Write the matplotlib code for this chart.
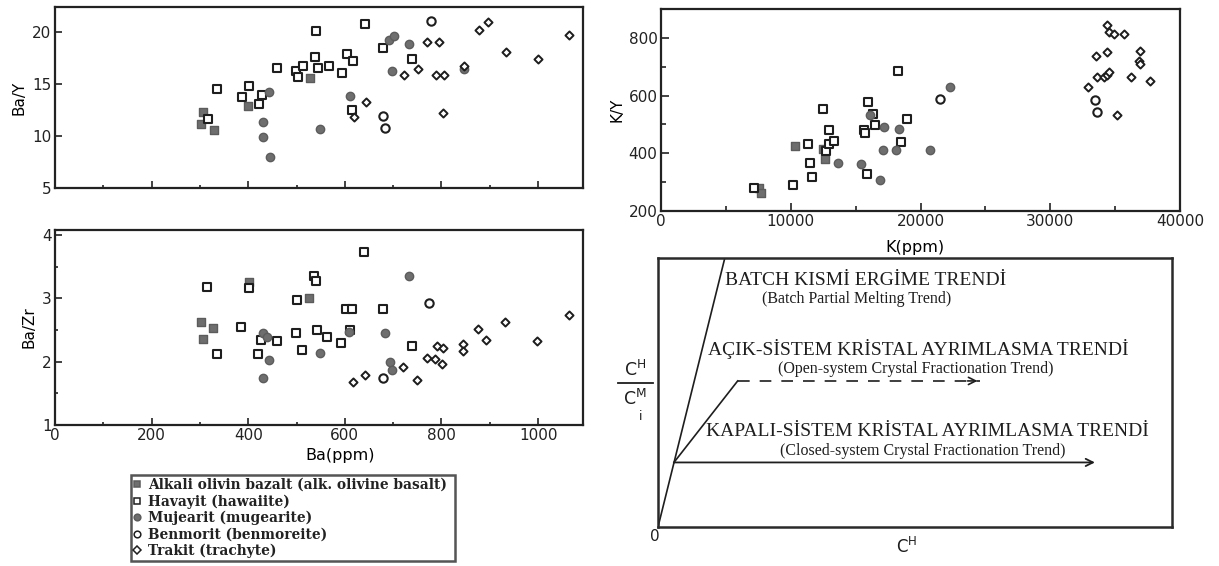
import matplotlib
matplotlib.use('Agg')
import matplotlib.pyplot as plt
from matplotlib.ticker import MultipleLocator
from matplotlib.lines import Line2D

plt.rcParams['font.family'] = ['DejaVu Sans']
plt.rcParams['mathtext.fontset'] = 'dejavusans'

# Ba - Ba/Y
bay_alk_x = [303, 307, 329, 400, 527]
bay_alk_y = [11.2, 12.3, 10.6, 12.9, 15.6]
bay_haw_x = [317, 336, 387, 401, 422, 429, 460, 498, 502, 513, 538, 541, 545, 567, 594, 605, 616, 614, 641, 680, 740]
bay_haw_y = [11.6, 14.5, 13.7, 14.8, 13.1, 13.9, 16.5, 16.2, 15.7, 16.7, 17.6, 20.1, 16.5, 16.7, 16.1, 17.9, 17.2, 12.5, 20.8, 18.5, 17.4]
bay_mug_x = [430, 430, 444, 446, 549, 611, 692, 702, 698, 733, 847]
bay_mug_y = [11.3, 9.9, 14.2, 8.0, 10.7, 13.8, 19.2, 19.6, 16.2, 18.8, 16.4]
bay_ben_x = [680, 683, 778]
bay_ben_y = [11.9, 10.8, 21.1]
bay_tra_x = [619, 644, 722, 752, 771, 794, 789, 805, 803, 847, 877, 896, 934, 1000, 1065]
bay_tra_y = [11.8, 13.3, 15.9, 16.4, 19.0, 19.0, 15.9, 15.9, 12.2, 16.7, 20.2, 21.0, 18.1, 17.4, 19.7]

# Ba - Ba/Zr
bazr_alk_x = [303, 307, 327, 401, 525]
bazr_alk_y = [2.62, 2.36, 2.54, 3.26, 3.0]
bazr_haw_x = [315, 335, 384, 401, 420, 427, 459, 498, 501, 511, 536, 540, 543, 563, 593, 602, 614, 611, 640, 679, 738]
bazr_haw_y = [3.18, 2.12, 2.55, 3.16, 2.12, 2.34, 2.32, 2.45, 2.98, 2.18, 3.36, 3.27, 2.5, 2.39, 2.29, 2.84, 2.84, 2.5, 3.74, 2.84, 2.24]
bazr_mug_x = [430, 438, 444, 430, 548, 609, 684, 694, 698, 732]
bazr_mug_y = [2.45, 2.39, 2.03, 1.74, 2.13, 2.47, 2.45, 2.0, 1.87, 3.35]
bazr_ben_x = [679, 775]
bazr_ben_y = [1.75, 2.92]
bazr_tra_x = [617, 642, 720, 749, 770, 787, 791, 803, 801, 845, 845, 875, 893, 932, 998, 1063]
bazr_tra_y = [1.68, 1.79, 1.92, 1.71, 2.06, 2.04, 2.24, 2.22, 1.97, 2.28, 2.17, 2.51, 2.35, 2.62, 2.33, 2.73]

# K - K/Y
ky_alk_x = [7540, 7690, 10290, 12460, 12640]
ky_alk_y = [281, 262, 425, 416, 381]
ky_haw_x = [7170, 10140, 11360, 11480, 11600, 12520, 12730, 12940, 12980, 13370, 15630, 15690, 15850, 15940, 16360, 16490, 18290, 18530, 18930]
ky_haw_y = [278, 290, 431, 366, 318, 554, 408, 431, 479, 442, 479, 472, 327, 577, 537, 497, 685, 439, 520]
ky_mug_x = [13620, 15390, 16120, 16850, 17220, 17100, 18130, 18380, 20760, 22290]
ky_mug_y = [366, 362, 533, 308, 491, 410, 413, 485, 410, 631]
ky_ben_x = [21490, 33460, 33640]
ky_ben_y = [589, 583, 543]
ky_tra_x = [32940, 33490, 33580, 34160, 34400, 34560, 34400, 34500, 34400, 34930, 35170, 35720, 36240, 36850, 36940, 36940, 37670]
ky_tra_y = [631, 737, 664, 664, 673, 681, 843, 820, 750, 814, 531, 814, 664, 721, 756, 710, 652]

rock_labels = ['Alkali olivin bazalt (alk. olivine basalt)', 'Havayit (hawaiite)',
               'Mujearit (mugearite)', 'Benmorit (benmoreite)', 'Trakit (trachyte)']

# schematic trend lines (fractions of the frame)
batch_x = [0.0, 0.13]
batch_y = [0.0, 1.0]
open_x = [0.031, 0.155]
open_y = [0.24, 0.543]
open_dash_x = [0.155, 0.627]
closed_x = [0.031, 0.85]
closed_y = 0.24

GRAY = '#6e6e6e'
INK = '#1e1e1e'
styles = [
    dict(marker='s', s=30, facecolor=GRAY, edgecolor='#5c5c5c', linewidths=1.0),
    dict(marker='s', s=30, facecolor='white', edgecolor=INK, linewidths=1.5),
    dict(marker='o', s=36, facecolor=GRAY, edgecolor='#5c5c5c', linewidths=1.0),
    dict(marker='o', s=36, facecolor='white', edgecolor=INK, linewidths=1.5),
    dict(marker='D', s=17, facecolor='white', edgecolor=INK, linewidths=1.4),
]


def draw_groups(ax, groups):
    for (xs, ys), st in zip(groups, styles):
        ax.scatter(xs, ys, zorder=3, **st)


def frame(ax, major_len=5, minor_len=2.5):
    for sp in ax.spines.values():
        sp.set_linewidth(1.6)
        sp.set_color('#222222')
    ax.tick_params(which='both', direction='in', top=False, right=False,
                   labelsize=11, colors='#222222', width=1.2, pad=2.5)
    ax.tick_params(which='major', length=major_len)
    ax.tick_params(which='minor', length=minor_len)


W, H = 1219, 566


def box(left, top, right, bottom):
    return [left / W, 1 - bottom / H, (right - left) / W, (bottom - top) / H]


fig = plt.figure(figsize=(12.19, 5.66), dpi=100)

# Ba/Y
ax1 = fig.add_axes(box(55, 7, 583, 188))
draw_groups(ax1, [(bay_alk_x, bay_alk_y), (bay_haw_x, bay_haw_y), (bay_mug_x, bay_mug_y),
                  (bay_ben_x, bay_ben_y), (bay_tra_x, bay_tra_y)])
ax1.set_xlim(0, 1093)
ax1.set_ylim(5, 22.4)
ax1.xaxis.set_major_locator(MultipleLocator(200))
ax1.xaxis.set_minor_locator(MultipleLocator(100))
ax1.yaxis.set_major_locator(MultipleLocator(5))
ax1.tick_params(axis='x', labelbottom=False)
ax1.set_ylabel('Ba/Y', fontsize=11, labelpad=4)
frame(ax1)

# Ba/Zr
ax2 = fig.add_axes(box(55, 230, 583, 425))
draw_groups(ax2, [(bazr_alk_x, bazr_alk_y), (bazr_haw_x, bazr_haw_y), (bazr_mug_x, bazr_mug_y),
                  (bazr_ben_x, bazr_ben_y), (bazr_tra_x, bazr_tra_y)])
ax2.set_xlim(0, 1093)
ax2.set_ylim(1, 4.08)
ax2.xaxis.set_major_locator(MultipleLocator(200))
ax2.xaxis.set_minor_locator(MultipleLocator(100))
ax2.yaxis.set_major_locator(MultipleLocator(1))
ax2.yaxis.set_minor_locator(MultipleLocator(0.5))
ax2.set_ylabel('Ba/Zr', fontsize=11, labelpad=4)
ax2.set_xlabel('Ba(ppm)', fontsize=11.5)
ax2.xaxis.set_label_coords(0.54, -0.12)
frame(ax2)

# K/Y
ax3 = fig.add_axes(box(661, 9, 1180, 211))
draw_groups(ax3, [(ky_alk_x, ky_alk_y), (ky_haw_x, ky_haw_y), (ky_mug_x, ky_mug_y),
                  (ky_ben_x, ky_ben_y), (ky_tra_x, ky_tra_y)])
ax3.set_xlim(0, 40000)
ax3.set_ylim(200, 900)
ax3.xaxis.set_major_locator(MultipleLocator(10000))
ax3.xaxis.set_minor_locator(MultipleLocator(5000))
ax3.yaxis.set_major_locator(MultipleLocator(200))
ax3.yaxis.set_minor_locator(MultipleLocator(100))
ax3.set_ylabel('K/Y', fontsize=11, labelpad=3)
ax3.set_xlabel('K(ppm)', fontsize=11.5)
ax3.xaxis.set_label_coords(0.49, -0.145)
frame(ax3, major_len=6, minor_len=3.5)

# legend box under the Ba plots
handles = [Line2D([], [], linestyle='none', marker=st['marker'], markersize=4.8 if st['marker'] != 'D' else 3.8,
                  markerfacecolor=st['facecolor'], markeredgecolor=st['edgecolor'], markeredgewidth=1.1)
           for st in styles]
leg = fig.legend(handles, rock_labels, loc='upper left', mode='expand',
                 bbox_to_anchor=(131 / W, 1 - 564 / H, 324 / W, 89 / H),
                 frameon=True, fancybox=False, edgecolor='#2a2a2a', handlelength=0.5,
                 handletextpad=0.5, borderpad=0.22, labelspacing=0.16, borderaxespad=0,
                 prop={'family': 'DejaVu Serif', 'weight': 'bold', 'size': 9.9})
leg.get_frame().set_linewidth(1.8)
for t in leg.get_texts():
    t.set_color('#222222')

# trend diagram
ax4 = fig.add_axes(box(658, 258, 1172, 527))
ax4.set_xlim(0, 1)
ax4.set_ylim(0, 1)
ax4.set_xticks([])
ax4.set_yticks([])
for sp in ax4.spines.values():
    sp.set_linewidth(1.8)
    sp.set_color('#2a2a2a')
ax4.plot(batch_x, batch_y, color=INK, lw=1.2)
ax4.plot(open_x, open_y, color=INK, lw=1.2)
ax4.plot(open_dash_x, [open_y[1], open_y[1]], color=INK, lw=1.2, dashes=(7, 6))
ax4.annotate('', xy=(open_dash_x[1], open_y[1]), xytext=(open_dash_x[1] - 0.03, open_y[1]),
             arrowprops=dict(arrowstyle='->', color=INK, lw=1.2, mutation_scale=13))
ax4.annotate('', xy=(closed_x[1], closed_y), xytext=(closed_x[0], closed_y),
             arrowprops=dict(arrowstyle='->', color=INK, lw=1.3, mutation_scale=13,
                             shrinkA=0, shrinkB=0))

serif = 'Liberation Serif'
ax4.text(0.13, 0.916, 'BATCH KISMİ ERGİME TRENDİ', family=serif, fontsize=14,
         ha='left', va='center', color=INK)
ax4.text(0.387, 0.848, '(Batch Partial Melting Trend)', family=serif, fontsize=11.5,
         ha='center', va='center', color=INK)
ax4.text(0.098, 0.662, 'AÇIK-SİSTEM KRİSTAL AYRIMLASMA TRENDİ', family=serif, fontsize=14,
         ha='left', va='center', color=INK)
ax4.text(0.502, 0.589, '(Open-system Crystal Fractionation Trend)', family=serif, fontsize=11.5,
         ha='center', va='center', color=INK)
ax4.text(0.094, 0.356, 'KAPALI-SİSTEM KRİSTAL AYRIMLASMA TRENDİ', family=serif, fontsize=14,
         ha='left', va='center', color=INK)
ax4.text(0.516, 0.282, '(Closed-system Crystal Fractionation Trend)', family=serif, fontsize=11.5,
         ha='center', va='center', color=INK)

ax4.text(-0.006, -0.037, '0', fontsize=11, ha='center', va='center', color=INK)
ax4.text(0.484, -0.074, r'C$^{\mathrm{H}}$', fontsize=12, ha='center', va='center', color=INK)
# C^H / C^M label drawn as a stacked fraction left of the frame
ax4.text(-0.045, 0.585, r'C$^{\mathrm{H}}$', fontsize=12.5, ha='center', va='center', color=INK,
         clip_on=False)
ax4.text(-0.045, 0.475, r'C$^{\mathrm{M}}$', fontsize=12.5, ha='center', va='center', color=INK,
         clip_on=False)
ax4.plot([-0.078, -0.01], [0.535, 0.535], color=INK, lw=1.3, clip_on=False)
ax4.text(-0.033, 0.41, 'i', fontsize=9, ha='center', va='center', color=INK)

fig.savefig('out.png', dpi=100)
